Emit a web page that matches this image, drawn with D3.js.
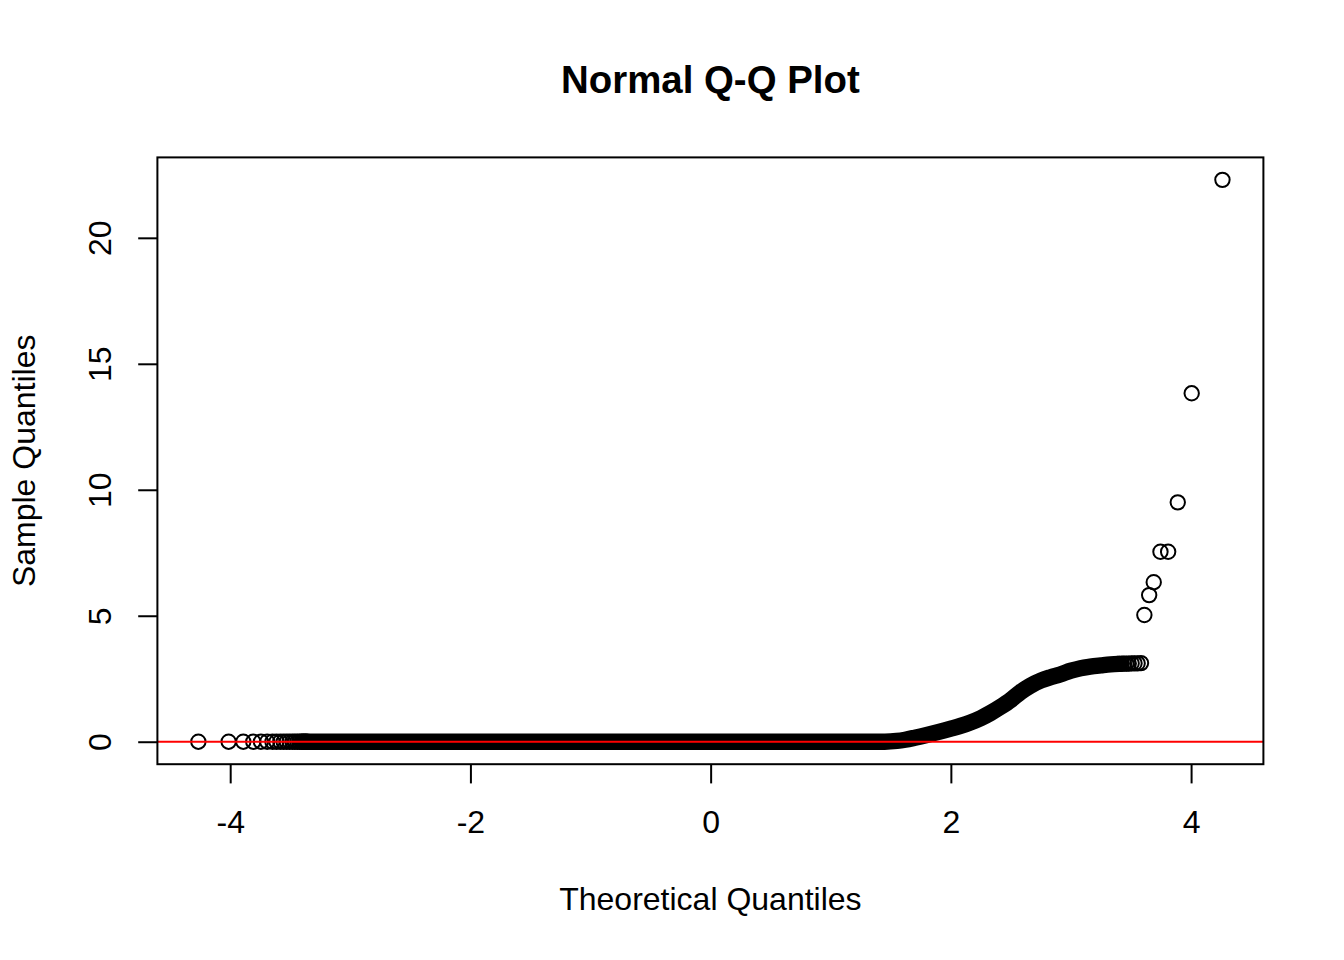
<!DOCTYPE html>
<html><head><meta charset="utf-8">
<script src="https://cdn.jsdelivr.net/npm/d3@7"></script>
<style>
body{margin:0;background:#fff}
text{font-family:"Liberation Sans",Arial,Helvetica,sans-serif;fill:#000}
</style>
</head><body><svg id="c" width="1344" height="960"></svg>
<script>
const titleText = "Normal Q-Q Plot";
const xLabelText = "Theoretical Quantiles";
const yLabelText = "Sample Quantiles";
const xTicks = [-4, -2, 0, 2, 4];
const yTicks = [0, 5, 10, 15, 20];

// sparse lower tail circles (sample value 0)
const lowerTailTheoretical = [-4.265, -4.013, -3.891, -3.808, -3.744, -3.692, -3.648, -3.615, -3.583, -3.555,
  -3.529, -3.505, -3.481, -3.461, -3.441, -3.423, -3.406, -3.390, -3.375, -3.361];
const lowerTailSample = [0, 0, 0, 0, 0, 0, 0, 0, 0, 0, 0, 0, 0, 0, 0, 0, 0, 0, 0, 0];

// dense body of the sample (overlapping circles form a solid band)
const bandTheoretical = [-3.40, 1.45, 1.55, 1.62, 1.70, 1.80, 1.90, 2.00, 2.08, 2.16, 2.25, 2.33, 2.41,
  2.50, 2.58, 2.66, 2.75, 2.83, 2.91, 3.00, 3.08, 3.16, 3.25, 3.33, 3.40];
const bandSample = [0, 0, 0.03, 0.08, 0.16, 0.27, 0.39, 0.52, 0.63, 0.76, 0.94, 1.14, 1.37,
  1.66, 1.97, 2.22, 2.43, 2.56, 2.67, 2.82, 2.92, 2.98, 3.03, 3.07, 3.09];

// sparse upper end of the band
const upperTailTheoretical = [3.390, 3.406, 3.423, 3.441, 3.461, 3.481, 3.505, 3.529, 3.555, 3.583];
const upperTailSample = [3.09, 3.09, 3.10, 3.10, 3.10, 3.10, 3.11, 3.11, 3.11, 3.12];

// outliers
const outlierTheoretical = [3.611, 3.651, 3.689, 3.745, 3.809, 3.889, 4.005, 4.261];
const outlierSample = [5.03, 5.82, 6.33, 7.54, 7.54, 9.50, 13.83, 22.30];

const refIntercept = 0; // qqline (both quartiles are 0)

const W = 1344, H = 960;
const line = 38.4;
const plot = {l: 157.4, r: 1263.4, t: 157.4, b: 764.2};
const svg = d3.select("#c");

const allT = [].concat(lowerTailTheoretical, upperTailTheoretical, outlierTheoretical);
const allS = [].concat(lowerTailSample, bandSample, upperTailSample, outlierSample);
const tExt = d3.extent(allT), sExt = d3.extent(allS);
const tPad = (tExt[1] - tExt[0]) * 0.04, sPad = (sExt[1] - sExt[0]) * 0.04;
const x = d3.scaleLinear().domain([tExt[0] - tPad, tExt[1] + tPad]).range([plot.l, plot.r]);
const y = d3.scaleLinear().domain([sExt[0] - sPad, sExt[1] + sPad]).range([plot.b, plot.t]);

svg.append("defs").append("clipPath").attr("id", "clip")
  .append("rect").attr("x", plot.l).attr("y", plot.t)
  .attr("width", plot.r - plot.l).attr("height", plot.b - plot.t);

const R = 7.2, SW = 2;
const g = svg.append("g").attr("clip-path", "url(#clip)");

// band
const band = bandTheoretical.map((t, i) => [t, bandSample[i]]);
g.append("path").datum(band)
  .attr("d", d3.line().x(d => x(d[0])).y(d => y(d[1])).curve(d3.curveMonotoneX))
  .attr("fill", "none").attr("stroke", "#000")
  .attr("stroke-width", 2 * R + SW).attr("stroke-linecap", "round").attr("stroke-linejoin", "round");

const pts = [];
lowerTailTheoretical.forEach((t, i) => pts.push([t, lowerTailSample[i]]));
upperTailTheoretical.forEach((t, i) => pts.push([t, upperTailSample[i]]));
outlierTheoretical.forEach((t, i) => pts.push([t, outlierSample[i]]));
g.selectAll("circle.p").data(pts).enter().append("circle").attr("class", "p")
  .attr("cx", d => x(d[0])).attr("cy", d => y(d[1])).attr("r", R)
  .attr("fill", "none").attr("stroke", "#000").attr("stroke-width", SW);

// red qqline
g.append("line").attr("x1", plot.l).attr("x2", plot.r)
  .attr("y1", y(refIntercept)).attr("y2", y(refIntercept))
  .attr("stroke", "#ff0000").attr("stroke-width", 2);

// box
svg.append("rect").attr("x", plot.l).attr("y", plot.t)
  .attr("width", plot.r - plot.l).attr("height", plot.b - plot.t)
  .attr("fill", "none").attr("stroke", "#000").attr("stroke-width", 2);

// x axis
const xa = svg.append("g").attr("transform", `translate(0,${plot.b})`)
  .call(d3.axisBottom(x).tickValues(xTicks).tickSize(line * 0.5).tickFormat(d => String(d)));
xa.select(".domain").remove();
xa.selectAll("line").attr("stroke", "#000").attr("stroke-width", 2);
xa.selectAll("text").attr("y", line * 1.8).attr("dy", null)
  .style("font-size", "32px").attr("fill", "#000");

// y axis
const ya = svg.append("g").attr("transform", `translate(${plot.l},0)`)
  .call(d3.axisLeft(y).tickValues(yTicks).tickSize(line * 0.5).tickFormat(d => String(d)));
ya.select(".domain").remove();
ya.selectAll("line").attr("stroke", "#000").attr("stroke-width", 2);
ya.selectAll("text").attr("x", null).attr("dy", null)
  .attr("text-anchor", "middle")
  .attr("transform", `translate(${-line * 1.2},0) rotate(-90)`)
  .style("font-size", "32px").attr("fill", "#000");

// labels
svg.append("text").attr("x", (plot.l + plot.r) / 2).attr("y", 93)
  .attr("text-anchor", "middle").style("font-size", "38.4px").style("font-weight", "bold").text(titleText);
svg.append("text").attr("x", (plot.l + plot.r) / 2).attr("y", plot.b + line * 3.8)
  .attr("text-anchor", "middle").style("font-size", "32px").text(xLabelText);
svg.append("text").attr("transform", `translate(${plot.l - line * 3.2},${(plot.t + plot.b) / 2}) rotate(-90)`)
  .attr("text-anchor", "middle").style("font-size", "32px").text(yLabelText);
</script></body></html>
